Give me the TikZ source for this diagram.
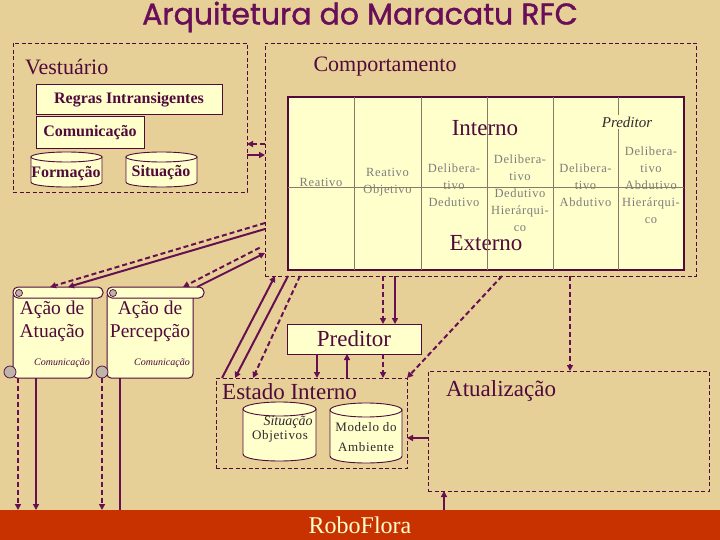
\documentclass[tikz,border=0pt]{standalone}
\usepackage{fontspec}
\setmainfont{Liberation Serif}
\newfontfamily\titlefont{Poppins}[FakeBold=1.2]
\newfontfamily\spacedfont{Liberation Serif}[LetterSpace=5]
\usetikzlibrary{arrows.meta}
\definecolor{bg}{RGB}{231,208,152}
\definecolor{plum}{RGB}{80,10,60}
\definecolor{arrowc}{RGB}{102,16,82}
\definecolor{paper}{RGB}{255,255,204}
\definecolor{gridc}{RGB}{140,120,105}
\definecolor{graytxt}{RGB}{125,125,125}
\definecolor{barc}{RGB}{200,50,0}
\definecolor{curlc}{RGB}{190,180,170}
\definecolor{titlec}{RGB}{105,14,88}
\definecolor{darktxt}{RGB}{50,40,45}
\newcommand\mycyl[5]{%
  \filldraw[draw=plum, fill=paper, line width=0.9pt]
    (#1,#2+#5) -- (#1,#4-#5) .. controls (#1,#4+#5/3) and (#3,#4+#5/3) .. (#3,#4-#5) -- (#3,#2+#5) -- cycle;
  \filldraw[draw=plum, fill=paper, line width=0.9pt]
    ({(#1+#3)/2},{#2+#5}) ellipse [x radius={(#3-#1)/2}, y radius=#5];
}
\begin{document}
\begin{tikzpicture}[x=1pt,y=-1pt,
  dbox/.style={draw=plum, dash pattern=on 4pt off 2.5pt, line width=0.9pt, inner sep=0pt, outer sep=0pt, anchor=north west},
  ybox/.style={draw=plum, fill=paper, line width=1pt, inner sep=0pt, outer sep=0pt, anchor=north west},
  conn/.style={draw=arrowc, line width=2pt, -{Triangle[length=6pt,width=6pt]}},
  dconn/.style={conn, dash pattern=on 5pt off 3pt},
  plainline/.style={draw=arrowc, line width=2pt},
  gridline/.style={draw=gridc, line width=0.8pt},
  biglabel/.style={text=plum, font=\fontsize{23}{27}\selectfont, inner sep=0pt},
  cell/.style={text=graytxt, font=\spacedfont\fontsize{12.5}{17}\selectfont, align=center, inner sep=0pt},
  curl/.style={draw=plum, fill=curlc, line width=0.7pt}
]
\useasboundingbox (0,0) rectangle (720,540);
\fill[bg] (0,0) rectangle (720,540);

% title
\node[text=titlec, font=\titlefont\fontsize{30}{33}\selectfont] (title) at (360,17) {Arquitetura do Maracatu RFC};

% main dashed regions
\node[dbox, minimum width=234pt, minimum height=149pt] (vest) at (13,43) {};
\node[dbox, minimum width=431pt, minimum height=233pt] (comp) at (265,43) {};
\node[biglabel, anchor=west, font=\fontsize{22}{26}\selectfont] (vestl) at (25,67) {Vestuário};
\node[biglabel, font=\fontsize{22}{26}\selectfont] (compl) at (385,67) {Comportamento};

% Vestuario content
\node[ybox, minimum width=186pt, minimum height=30pt, text=plum, font=\bfseries\fontsize{16}{19}\selectfont] (regras) at (36,85) {Regras Intransigentes};
\node[ybox, minimum width=108pt, minimum height=32pt, text=plum, font=\bfseries\fontsize{16}{19}\selectfont] (comun) at (36,117) {Comunicação};
\mycyl{31}{152}{102}{187}{5}
\mycyl{126}{152}{197}{187}{5}
\node[text=plum, font=\bfseries\fontsize{16}{19}\selectfont] (form) at (66,174) {Formação};
\node[text=plum, font=\bfseries\fontsize{16}{19}\selectfont] (situ) at (161,173) {Situação};

% table
\node[ybox, minimum width=396pt, minimum height=173pt, line width=1.3pt] (table) at (288,97) {};
\node[cell] at (321,182) {Reativo};
\node[cell] at (387.5,182) {Reativo\\Objetivo};
\node[cell] at (454,185) {Delibera-\\tivo\\Dedutivo};
\node[cell] at (520,193) {Delibera-\\tivo\\Dedutivo\\Hierárqui-\\co};
\node[cell] at (585.5,185) {Delibera-\\tivo\\Abdutivo};
\node[cell] at (651,185) {Delibera-\\tivo\\Abdutivo\\Hierárqui-\\co};
\node[biglabel] (interno) at (485,128) {Interno};
\node[biglabel] (externo) at (486,243) {Externo};
\draw[gridline] (354,97) -- (354,270);
\draw[gridline] (421,97) -- (421,270);
\draw[gridline] (487,97) -- (487,270);
\draw[gridline] (553,97) -- (553,270);
\draw[gridline] (618,97) -- (618,270);
\draw[gridline] (288,187) -- (684,187);
\node[fill=paper, inner sep=2pt, text=darktxt, font=\itshape\fontsize{15}{18}\selectfont] (predi) at (627,122) {Preditor};

% scrolls
\node[ybox, rounded corners=4pt, minimum width=79pt, minimum height=86pt] (atu) at (13,292) {};
\node[ybox, rounded corners=5pt, minimum width=90pt, minimum height=11pt] (atuRoll) at (13,287) {};
\draw[curl] (19,293) circle[radius=3.5pt];
\draw[curl] (10,372) circle[radius=6pt];
\node[text=plum, align=center, font=\fontsize{19.5}{23}\selectfont] (atut) at (52,321) {Ação de\\Atuação};
\node[text=plum, font=\itshape\fontsize{10}{12}\selectfont] (atuc) at (62,363) {Comunicação};

\node[ybox, rounded corners=4pt, minimum width=86pt, minimum height=86pt] (perc) at (107,292) {};
\node[ybox, rounded corners=5pt, minimum width=97pt, minimum height=11pt] (percRoll) at (107,287) {};
\draw[curl] (113,293) circle[radius=3.5pt];
\draw[curl] (102,372) circle[radius=6pt];
\node[text=plum, align=center, font=\fontsize{19.5}{23}\selectfont] (perct) at (150,321) {Ação de\\Percepção};
\node[text=plum, font=\itshape\fontsize{10}{12}\selectfont] (percc) at (162,363) {Comunicação};

% Preditor box
\node[ybox, minimum width=134pt, minimum height=30pt, text=plum, font=\fontsize{23}{27}\selectfont] (predbox) at (287,324) {Preditor};

% Estado interno
\node[dbox, minimum width=191pt, minimum height=90pt] (estado) at (216,378) {};
\node[biglabel, anchor=west] (estadol) at (222,392) {Estado Interno};
\mycyl{243}{402}{316}{461}{7}
\mycyl{330}{403}{402}{463}{7}
\node[text=darktxt, font=\itshape\fontsize{14}{16}\selectfont] (sit2) at (288,422) {Situação};
\node[text=darktxt, font=\spacedfont\fontsize{13}{16}\selectfont] (obj) at (280,436) {Objetivos};
\node[text=darktxt, align=center, font=\spacedfont\fontsize{13}{20}\selectfont] (mod) at (366,437) {Modelo do\\Ambiente};

% Atualizacao
\node[dbox, minimum width=281pt, minimum height=120pt] (atual) at (428,371) {};
\node[biglabel, anchor=west] (atuall) at (446,391) {Atualização};

% RoboFlora bar
\node[fill=barc, inner sep=0pt, outer sep=0pt, anchor=north west, minimum width=720pt, minimum height=30pt, text=paper, font=\fontsize{24}{28}\selectfont] (bar) at (0,510) {RoboFlora};

% connectors vestuario <-> comportamento
\draw[dconn] (comp.west |- 0,144) -- (vest.east |- 0,144);
\draw[conn] (vest.east |- 0,155) -- (comp.west |- 0,155);

% comportamento -> scrolls
\draw[dconn] (comp.west |- 0,223) -- ([xshift=37pt]atuRoll.north west);
\draw[conn] (comp.west |- 0,229) -- ([xshift=55pt]atuRoll.north west);
\draw[dconn, shorten <=6pt] (comp.west |- 0,245) -- ([xshift=76pt]percRoll.north west);
\draw[conn] ([xshift=90pt]percRoll.north west) -- (comp.west |- 0,253);

% comportamento <-> estado
\draw[conn] ([xshift=6pt]estado.north west) -- ([xshift=10pt]comp.south west);
\draw[conn] ([xshift=23pt]comp.south west) -- ([xshift=19pt]estado.north west);
\draw[dconn] ([xshift=35pt]comp.south west) -- ([xshift=37pt]estado.north west);

% comportamento -> preditor
\coordinate (pa) at ([xshift=96pt]predbox.north west);
\coordinate (pb) at ([xshift=108pt]predbox.north west);
\draw[dconn] (comp.south -| pa) -- (pa);
\draw[conn] (comp.south -| pb) -- (pb);

% preditor <-> estado
\coordinate (qa) at ([xshift=30pt]predbox.south west);
\coordinate (qb) at ([xshift=60pt]predbox.south west);
\coordinate (qc) at ([xshift=96pt]predbox.south west);
\draw[conn] (qa) -- (estado.north -| qa);
\draw[conn] (estado.north -| qb) -- (qb);
\draw[dconn] (qc) -- (estado.north -| qc);

% comportamento -> estado (diagonal), -> atualizacao
\draw[dconn] ([xshift=237pt]comp.south west) -- (estado.north east);
\coordinate (ua) at ([xshift=142pt]atual.north west);
\draw[dconn] (comp.south -| ua) -- (ua);

% atualizacao -> estado
\draw[conn] (atual.west |- 0,438) -- (estado.east |- 0,438);

% roboflora -> atualizacao
\coordinate (va) at ([xshift=16pt]atual.south west);
\draw[conn] (bar.north -| va) -- (va);

% scrolls -> roboflora
\coordinate (s1) at ([xshift=5pt]atu.south west);
\coordinate (s2) at ([xshift=23pt]atu.south west);
\coordinate (s3) at ([xshift=-5pt]perc.south west);
\coordinate (s4) at ([xshift=13pt]perc.south west);
\draw[dconn] (s1) -- (bar.north -| s1);
\draw[conn] (s2) -- (bar.north -| s2);
\draw[dconn] (s3) -- (bar.north -| s3);
\draw[plainline] (s4) -- (bar.north -| s4);
\end{tikzpicture}
\end{document}
